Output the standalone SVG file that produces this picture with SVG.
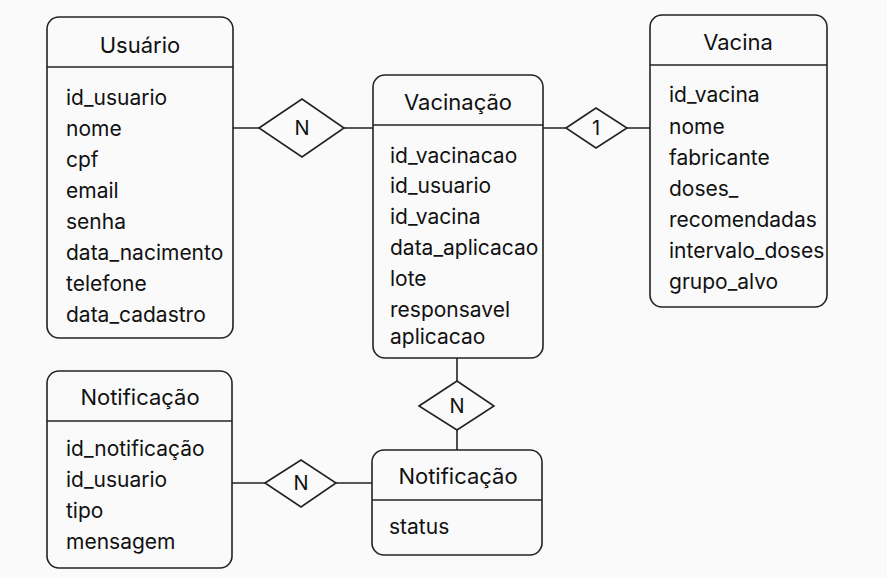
<svg xmlns="http://www.w3.org/2000/svg" width="887" height="578" viewBox="0 0 887 578">
<style>
.bg{fill:#fafafa}
.box{fill:#fafafa;stroke:#222;stroke-width:1.6}
.ln{stroke:#222;stroke-width:1.6;fill:none}
.dm{fill:#fafafa;stroke:#222;stroke-width:1.6}
text{font-family:Inter,"Liberation Sans",sans-serif;font-size:21px;fill:#111;dominant-baseline:central}
.t{text-anchor:middle;font-size:22px}
.r{text-anchor:middle;font-size:20px}
</style>
<rect class="bg" x="0" y="0" width="887" height="578"/>
<g id="connectors">
<line class="ln" x1="233" y1="128" x2="373" y2="128"/>
<line class="ln" x1="543" y1="128" x2="650" y2="128"/>
<line class="ln" x1="457" y1="358" x2="457" y2="450"/>
<line class="ln" x1="232" y1="483" x2="372" y2="483"/>
</g>
<g id="rel-usuario-vacinacao">
<polygon class="dm" points="259,128 302,99 344,128 302,157"/>
<text class="r" x="302" y="128">N</text>
</g>
<g id="rel-vacinacao-vacina">
<polygon class="dm" points="566,128 596,108 627,128 596,148"/>
<text class="r" x="596" y="128">1</text>
</g>
<g id="rel-vacinacao-notificacao">
<polygon class="dm" points="419,406 457,381 494,406 457,430"/>
<text class="r" x="457" y="406">N</text>
</g>
<g id="rel-notificacao-notificacao">
<polygon class="dm" points="265,483 301,460 336,483 301,507"/>
<text class="r" x="301" y="483">N</text>
</g>
<g id="usuario">
<rect class="box" x="47" y="17" width="186" height="321" rx="12"/>
<line class="ln" x1="47" y1="67" x2="233" y2="67"/>
<text class="t" x="140" y="45">Usuário</text>
<text x="66" y="97">id_usuario</text>
<text x="66" y="128">nome</text>
<text x="66" y="159">cpf</text>
<text x="66" y="190">email</text>
<text x="66" y="221">senha</text>
<text x="66" y="252">data_nacimento</text>
<text x="66" y="283">telefone</text>
<text x="66" y="314">data_cadastro</text>
</g>
<g id="vacinacao">
<rect class="box" x="373" y="75" width="170" height="283" rx="12"/>
<line class="ln" x1="373" y1="125" x2="543" y2="125"/>
<text class="t" x="458" y="102">Vacinação</text>
<text x="390" y="155">id_vacinacao</text>
<text x="390" y="185">id_usuario</text>
<text x="390" y="216">id_vacina</text>
<text x="390" y="247">data_aplicacao</text>
<text x="390" y="278">lote</text>
<text x="390" y="309">responsavel</text>
<text x="390" y="336">aplicacao</text>
</g>
<g id="vacina">
<rect class="box" x="650" y="15" width="177" height="292" rx="12"/>
<line class="ln" x1="650" y1="65" x2="827" y2="65"/>
<text class="t" x="738" y="42">Vacina</text>
<text x="669" y="94">id_vacina</text>
<text x="669" y="126">nome</text>
<text x="669" y="157">fabricante</text>
<text x="669" y="188">doses_</text>
<text x="669" y="219">recomendadas</text>
<text x="669" y="250">intervalo_doses</text>
<text x="669" y="281">grupo_alvo</text>
</g>
<g id="notificacao-left">
<rect class="box" x="47" y="371" width="185" height="197" rx="12"/>
<line class="ln" x1="47" y1="421" x2="232" y2="421"/>
<text class="t" x="140" y="397">Notificação</text>
<text x="66" y="448">id_notificação</text>
<text x="66" y="479">id_usuario</text>
<text x="66" y="510">tipo</text>
<text x="66" y="541">mensagem</text>
</g>
<g id="notificacao-right">
<rect class="box" x="372" y="450" width="170" height="105" rx="12"/>
<line class="ln" x1="372" y1="500" x2="542" y2="500"/>
<text class="t" x="458" y="476">Notificação</text>
<text x="389" y="526">status</text>
</g>
</svg>
